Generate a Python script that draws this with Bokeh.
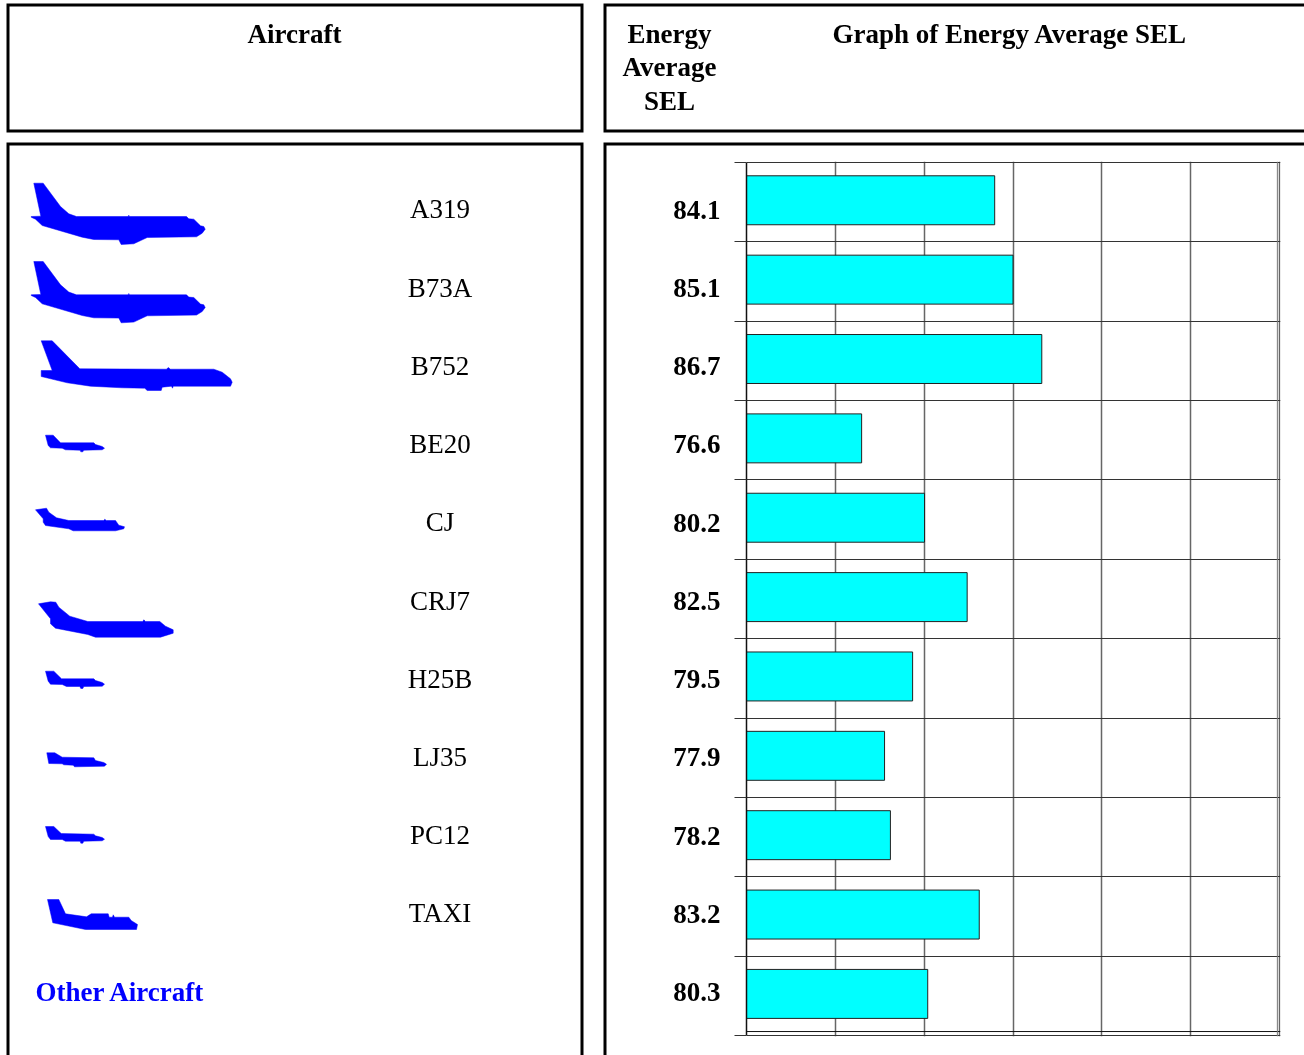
from bokeh.embed import file_html
from bokeh.resources import INLINE
from bokeh.plotting import figure
from bokeh.models import (ColumnDataSource, FixedTicker, Grid, LinearAxis,
                          Range1d, Span)
from bokeh.core.properties import value

aircraft = ["A319", "B73A", "B752", "BE20", "CJ", "CRJ7", "H25B", "LJ35", "PC12", "TAXI"]
other_label = "Other Aircraft"
sel_labels = ["84.1", "85.1", "86.7", "76.6", "80.2", "82.5", "79.5", "77.9", "78.2", "83.2", "80.3"]
# bar ends as read against the 70-100 scale of the gridlines
bar_values = [83.97, 85.0, 86.62, 76.48, 80.02, 82.42, 79.35, 77.77, 78.1, 83.1, 80.2]
x_ticks = [70, 75, 80, 85, 90, 95, 100]

SERIF = "Liberation Serif"
BLUE = "#0000FF"

# outlines, in pixels of the page
A319 = [(33.3,182.7),(42.7,182.7),(60,206),(68.3,213.3),(76,216),(127.7,216),(128.3,214.7),(129,216),(186,216),(188.3,218.3),(193.3,218.7),(200,225.3),(203.3,226),(204.7,228.7),(201.7,232.7),(196,236.3),(146.7,237),(133.3,243.3),(120.7,244),(118.3,239.3),(93.3,239),(81.7,236.7),(41.7,225),(35,218.7),(30.7,216.7),(30.7,216),(40.3,215.7)]
B752 = [(40.7,340.3),(51.7,340.3),(79.3,368.3),(166,368.7),(167.7,367),(170,368.7),(213.3,368.7),(221.7,371.7),(230,378.3),(231.7,381.7),(230,385.7),(172.7,385.7),(172,387.7),(171,385.7),(161.7,386.7),(160.7,390),(146.7,390),(144.3,387.7),(121.7,387.3),(90,385.7),(66.7,382.3),(40.7,376),(40.7,370),(51.7,370)]
BE20 = [(45,434.7),(52.7,434.7),(60,442.3),(93.3,442.3),(95,444),(101.7,446),(104,447.7),(101.7,449.3),(83.3,449.7),(82.3,451.3),(80.3,451.3),(79.7,449.7),(65,449.3),(61.7,447.7),(50,447.3),(47.7,445)]
CJ = [(35,509.3),(46,507.7),(48.3,511.7),(56,517.3),(68.3,520),(103.3,520),(104.3,518.7),(105.7,520),(115,520),(118.3,524.7),(124,526.3),(123.3,528.3),(115,530.3),(72.7,530.3),(68.3,528.3),(45,525),(42.7,521.7),(42.7,518.3)]
CRJ7 = [(38,603.3),(50,601.3),(55.3,601.7),(58.3,606.7),(69.3,615.7),(87.3,621),(142.3,621),(143.3,619.3),(145,621),(159.3,621),(165,625.7),(172.7,629.3),(172.7,632.7),(160,636.7),(95,636.7),(87.3,634),(55,627.7),(50,623.3),(50,618.3)]
H25B = [(45,670.7),(53.3,670.7),(61,678.3),(93.3,678.3),(95,680),(101.7,682),(104,683.7),(101.7,685.7),(83.3,686),(82.3,688),(80.3,688),(79.3,686),(66,686),(61.7,684),(50,683.7),(47.7,680.7)]
LJ35 = [(46.3,752.3),(54.3,752.3),(61.7,756.7),(93.3,757.3),(95,760),(103.3,762),(106,763.7),(104,765.7),(74,766.3),(72.7,764.7),(63.3,764.3),(61.7,763.3),(48.3,763)]
PC12 = [(45,826),(53.3,826),(60.7,833),(93.3,833.7),(95,835.3),(101.7,837),(104,838.7),(101.7,840.3),(83.3,840.7),(82.3,842.7),(80.3,842.7),(79.7,840.7),(65,840.7),(61.7,839),(50,839),(47.7,836)]
TAXI = [(47,899),(58.3,899),(65,913.3),(86,916.3),(90.7,913.3),(107.7,913.3),(108.7,916.7),(112,916.7),(112.7,914.3),(114,916.7),(128.3,916.7),(130.7,920),(137,924),(136,929),(85,929),(52.3,922.3)]
B73A = [(x, y + 78.3) for x, y in A319]
planes = [A319, B73A, B752, BE20, CJ, CRJ7, H25B, LJ35, PC12, TAXI]

W, H = 1304, 1055
FL, FR, FT, FB = 746, 1280, 161, 1036
ROW = (1035 - 162) / 11
UNIT = (1279 - 746) / 30
n = len(bar_values)

# ---------- page furniture: a figure whose scale is the page itself ----------
bg = figure(width=W, height=H, output_backend="svg", toolbar_location=None,
            x_range=Range1d(0, W), y_range=Range1d(H, 0),
            x_axis_type=None, y_axis_type=None, min_border=0,
            outline_line_color=None, border_fill_color="white", background_fill_color="white")
bg.styles = {"position": "fixed", "left": "0px", "top": "0px", "z-index": "0"}
bg.grid.visible = False

box_xs = [[7.5, 581.5, 581.5, 7.5, 7.5], [1320, 604.5, 604.5, 1320],
          [7.5, 7.5, 581.5, 581.5], [604.5, 604.5, 1320]]
box_ys = [[4.5, 4.5, 130.5, 130.5, 4.5], [4.5, 4.5, 130.5, 130.5],
          [1070, 143.5, 143.5, 1070], [1070, 143.5, 143.5]]
bg.multi_line(box_xs, box_ys, line_color="#000000", line_width=3, line_join="miter", line_cap="square")

bg.patches([[a for a, _ in pts] for pts in planes], [[b for _, b in pts] for pts in planes],
           fill_color=BLUE, line_color=BLUE, line_width=0.5)


def text(x, y, s, bold=False, align="center", color="#000000"):
    bg.text([x], [y], text=[s], text_font=value(SERIF), text_font_size="27px",
            text_font_style="bold" if bold else "normal",
            text_color=color, text_align=align, text_baseline="alphabetic")


text(294, 33, "Aircraft", bold=True)
text(669, 33, "Energy", bold=True)
text(669, 66, "Average", bold=True)
text(669, 100, "SEL", bold=True)
text(1009.5, 33, "Graph of Energy Average SEL", bold=True)

row_y = [208, 287, 365, 443, 521, 600, 678, 756, 834, 912]
for name, yy in zip(aircraft, row_y):
    text(439.5, yy, name)
text(35, 991, other_label, bold=True, align="left", color=BLUE)

# ---------- the bar chart ----------
source = ColumnDataSource(dict(
    y=[i + 0.476 for i in range(n)],
    left=[x_ticks[0]] * n,
    right=bar_values,
))

p = figure(width=W, height=H, output_backend="svg", toolbar_location=None,
           x_range=Range1d(x_ticks[0], x_ticks[-1] + 1 / UNIT),
           y_range=Range1d(n + 1 / ROW, -1 / ROW),
           x_axis_type=None, y_axis_type=None,
           min_border_left=FL, min_border_right=W - FR,
           min_border_top=FT, min_border_bottom=H - FB,
           outline_line_color=None, border_fill_alpha=0, background_fill_alpha=0)
p.styles = {"position": "fixed", "left": "0px", "top": "0px", "z-index": "1"}
p.grid.visible = False

label_px = [209.8, 287.8, 365.8, 443.8, 522.8, 600.8, 678.8, 756.8, 835.8, 913.8, 991.8]
label_pos = [(py - 162) / ROW for py in label_px]
y_ticker = FixedTicker(ticks=label_pos, minor_ticks=list(range(n + 1)))
y_axis = LinearAxis(ticker=y_ticker, bounds=(0, n),
                    major_label_overrides=dict(zip(label_pos, sel_labels)),
                    major_label_text_font=SERIF, major_label_text_font_style="bold",
                    major_label_text_font_size="27px", major_label_text_color="#000000",
                    major_label_standoff=14,
                    major_tick_in=0, major_tick_out=0,
                    minor_tick_in=0, minor_tick_out=12, minor_tick_line_color="#333333",
                    minor_tick_line_width=1,
                    axis_line_color="#111111", axis_line_width=1.5)
p.add_layout(y_axis, "left")

p.add_layout(Grid(dimension=0, ticker=FixedTicker(ticks=x_ticks),
                  grid_line_color="#666666", grid_line_width=1.5))
p.add_layout(Grid(dimension=1, ticker=FixedTicker(ticks=list(range(n + 1))),
                  grid_line_color="#333333", grid_line_width=1))

p.hbar(y="y", left="left", right="right", height=0.617, source=source,
       fill_color="#00FFFF", line_color="#222222", line_width=1)

# inner border of the plot area
p.add_layout(Span(location=10.95, dimension="width", line_color="#111111", line_width=1))
p.add_layout(Span(location=99.88, dimension="height", line_color="#777777", line_width=1))

open("out.html", "w").write(file_html([bg, p], INLINE))
